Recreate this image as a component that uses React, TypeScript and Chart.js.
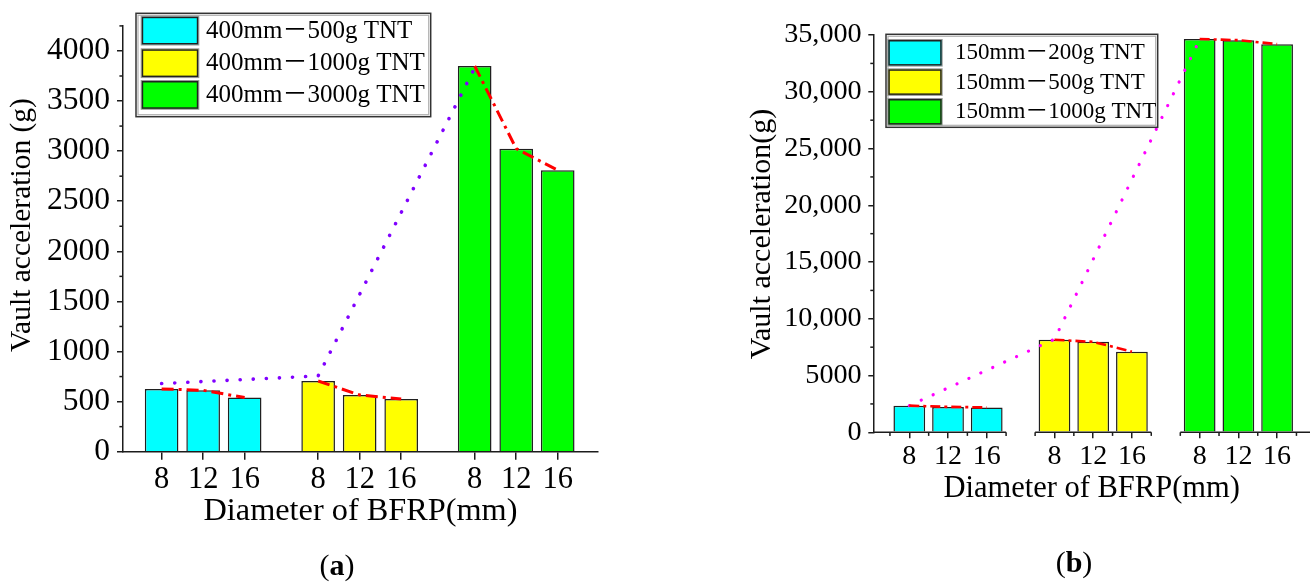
import React, { useEffect, useRef } from 'react';
import { Chart, registerables } from 'chart.js';

Chart.register(...registerables);

const FONT = '"Liberation Serif", "Times New Roman", "Noto Sans CJK SC", serif';
const AXIS = '#1c1c1c';
const TEXT = '#000000';

// ---------- shared ----------
const CATEGORIES = ['8', '12', '16'];
const COLORS = ['#00ffff', '#ffff00', '#00ff00'];

// ---------- panel (a) ----------
const A_SERIES = ['400mm－500g TNT', '400mm－1000g TNT', '400mm－3000g TNT'];
const A_500G = [626, 613, 540];
const A_1000G = [706, 566, 527];
const A_3000G = [3850, 3025, 2810];
const A_TREND = [680, 756, 3830];
const A_Y_TICKS = [0, 500, 1000, 1500, 2000, 2500, 3000, 3500, 4000];
const A_Y_LABELS = ['0', '500', '1000', '1500', '2000', '2500', '3000', '3500', '4000'];
const A_Y_MAX = 4250;

// ---------- panel (b) ----------
const B_SERIES = ['150mm－200g TNT', '150mm－500g TNT', '150mm－1000g TNT'];
const B_200G = [2350, 2240, 2190];
const B_500G = [8150, 7970, 7100];
const B_1000G = [34650, 34550, 34200];
const B_TREND = [2350, 8200, 34600];
const B_Y_TICKS = [0, 5000, 10000, 15000, 20000, 25000, 30000, 35000];
const B_Y_LABELS = ['0', '5000', '10,000', '15,000', '20,000', '25,000', '30,000', '35,000'];
const B_Y_MAX = 35000;

type Panel = {
  series: string[];
  groups: number[][];
  trend: number[];
  trendColor: string;
  trendDash: number[];
  trendWidth: number;
  redDash: number[];
  redWidth: number;
  yTicks: number[];
  yLabels: string[];
  yMax: number;
  yTitle: string;
  stride: number;
  xMin: number;
  xMax: number;
  barPct: number;
  pad: { top: number; right: number };
  yWidth: number;
  xHeight: number;
  yTickFont: number;
  yTickPad: number;
  yTickLen: number;
  yTitleFont: number;
  yTitlePos: { cx: number; cy: number };
  xTickFont: number;
  xTickPad: number;
  xTickLen: number;
  xTitleFont: number;
  xTitlePad: number;
  legend: { x: number; y: number; w: number; h: number; sx: number; sw: number; rows: number[]; rh: number; tx: number; font: number };
  label: { letter: string; cx: number; base: number; font: number };
  axisGaps: boolean;
  xMinor: boolean;
};

const PANEL_A: Panel = {
  series: A_SERIES,
  groups: [A_500G, A_1000G, A_3000G],
  trend: A_TREND,
  trendColor: '#8000ff',
  trendDash: [0.1, 13],
  trendWidth: 3.6,
  redDash: [12, 5, 3, 5],
  redWidth: 3,
  yTicks: A_Y_TICKS,
  yLabels: A_Y_LABELS,
  yMax: A_Y_MAX,
  yTitle: 'Vault acceleration (g)',
  stride: 3.77,
  xMin: -0.93,
  xMax: 10.51,
  barPct: 0.81,
  pad: { top: 12.3, right: 58 },
  yWidth: 123,
  xHeight: 130.3,
  yTickFont: 31.5,
  yTickPad: 7,
  yTickLen: 6,
  yTitleFont: 29.5,
  yTitlePos: { cx: 22.5, cy: 225 },
  xTickFont: 30.5,
  xTickPad: 2,
  xTickLen: 8,
  xTitleFont: 32.3,
  xTitlePad: 51,
  legend: { x: 136, y: 13.3, w: 294.7, h: 103.4, sx: 141.7, sw: 56.6, rows: [16.7, 49.3, 81], rh: 27.8, tx: 206, font: 25 },
  label: { letter: 'a', cx: 337, base: 575, font: 30 },
  axisGaps: false,
  xMinor: false,
};

const PANEL_B: Panel = {
  series: B_SERIES,
  groups: [B_200G, B_500G, B_1000G],
  trend: B_TREND,
  trendColor: '#ff00ff',
  trendDash: [0.1, 13],
  trendWidth: 3.2,
  redDash: [10, 4, 3, 4],
  redWidth: 2.6,
  yTicks: B_Y_TICKS,
  yLabels: B_Y_LABELS,
  yMax: B_Y_MAX,
  yTitle: 'Vault acceleration(g)',
  stride: 3.75,
  xMin: -0.93,
  xMax: 10.35,
  barPct: 0.82,
  pad: { top: 35.05, right: 2 },
  yWidth: 217.3,
  xHeight: 149.7,
  yTickFont: 28.2,
  yTickPad: 6.6,
  yTickLen: 5,
  yTitleFont: 30,
  yTitlePos: { cx: 106.5, cy: 234 },
  xTickFont: 28,
  xTickPad: 2,
  xTickLen: 6,
  xTitleFont: 30.5,
  xTitlePad: 75,
  legend: { x: 230, y: 34.3, w: 271.7, h: 93, sx: 232.3, sw: 53.4, rows: [40, 69.3, 99], rh: 25.6, tx: 299, font: 23 },
  label: { letter: 'b', cx: 418, base: 572, font: 30 },
  axisGaps: true,
  xMinor: true,
};

function decorPlugin(p: Panel) {
  return {
    id: 'decor',
    afterDraw(chart: any) {
      const ctx: CanvasRenderingContext2D = chart.ctx;
      const xs = chart.scales.x;
      const ys = chart.scales.y;
      const area = chart.chartArea;
      ctx.save();
      ctx.strokeStyle = AXIS;
      ctx.lineWidth = 1.5;
      // y minor ticks (halfway between majors)
      const step = p.yTicks[1] - p.yTicks[0];
      for (let v = step / 2; v <= p.yMax + 1e-6; v += step) {
        const py = ys.getPixelForValue(v);
        ctx.beginPath();
        ctx.moveTo(area.left - p.yTickLen * 0.6, py);
        ctx.lineTo(area.left, py);
        ctx.stroke();
      }
      // x axis line (with gaps between groups for panel b)
      if (p.axisGaps) {
        const segs = [
          [p.xMin, 2.5],
          [p.stride - 0.5, p.stride + 2.5],
          [2 * p.stride - 0.5, p.xMax],
        ];
        segs.forEach(([a, b]) => {
          ctx.beginPath();
          ctx.moveTo(Math.max(area.left - 0.75, xs.getPixelForValue(a)), area.bottom);
          ctx.lineTo(xs.getPixelForValue(b), area.bottom);
          ctx.stroke();
        });
      }
      if (p.xMinor) {
        for (let g = 0; g < 3; g++) {
          [-0.5, 0.5, 1.5, 2.5].forEach((o) => {
            const px = xs.getPixelForValue(g * p.stride + o);
            ctx.beginPath();
            ctx.moveTo(px, area.bottom);
            ctx.lineTo(px, area.bottom + p.xTickLen * 0.6);
            ctx.stroke();
          });
        }
      }
      // y axis title
      ctx.save();
      ctx.translate(p.yTitlePos.cx, p.yTitlePos.cy);
      ctx.rotate(-Math.PI / 2);
      ctx.font = `${p.yTitleFont}px ${FONT}`;
      ctx.textAlign = 'center';
      ctx.textBaseline = 'middle';
      ctx.fillStyle = TEXT;
      ctx.fillText(p.yTitle, 0, 0);
      ctx.restore();
      // legend
      const L = p.legend;
      ctx.fillStyle = '#ffffff';
      ctx.fillRect(L.x, L.y, L.w, L.h);
      ctx.lineWidth = 1.2;
      ctx.strokeStyle = '#b0b0b0';
      ctx.strokeRect(L.x + 2, L.y + 2, L.w - 4, L.h - 4);
      ctx.strokeStyle = '#333333';
      ctx.lineWidth = 1.5;
      ctx.strokeRect(L.x, L.y, L.w, L.h);
      ctx.font = `${L.font}px ${FONT}`;
      ctx.textBaseline = 'middle';
      ctx.textAlign = 'left';
      p.series.forEach((name, i) => {
        const top = L.rows[i];
        ctx.fillStyle = COLORS[i];
        ctx.fillRect(L.sx, top, L.sw, L.rh);
        ctx.strokeStyle = '#9a9a9a';
        ctx.lineWidth = 1;
        ctx.strokeRect(L.sx - 0.5, top - 0.5, L.sw + 1, L.rh + 1);
        ctx.strokeStyle = '#222222';
        ctx.lineWidth = 1.5;
        ctx.strokeRect(L.sx + 0.75, top + 0.75, L.sw - 1.5, L.rh - 1.5);
        ctx.fillStyle = TEXT;
        ctx.fillText(name, L.tx, top + L.rh / 2 + 0.5);
      });
      // panel label "(a)" / "(b)" with bold letter
      const lab = p.label;
      const normal = `${lab.font}px ${FONT}`;
      const bold = `bold ${lab.font}px ${FONT}`;
      ctx.textBaseline = 'alphabetic';
      ctx.font = normal;
      const w1 = ctx.measureText('(').width;
      const w3 = ctx.measureText(')').width;
      ctx.font = bold;
      const w2 = ctx.measureText(lab.letter).width;
      const x0 = lab.cx - (w1 + w2 + w3) / 2;
      ctx.fillStyle = TEXT;
      ctx.font = normal;
      ctx.fillText('(', x0, lab.base);
      ctx.font = bold;
      ctx.fillText(lab.letter, x0 + w1, lab.base);
      ctx.font = normal;
      ctx.fillText(')', x0 + w1 + w2, lab.base);
      ctx.restore();
    },
  };
}

function buildConfig(p: Panel): any {
  const positions: number[] = [];
  for (let g = 0; g < 3; g++) for (let i = 0; i < 3; i++) positions.push(g * p.stride + i);
  const xLabels = positions.map((_, k) => CATEGORIES[k % 3]);

  const bars = p.groups.map((vals, g) => ({
    type: 'bar',
    label: p.series[g],
    data: vals.map((v, i) => ({ x: g * p.stride + i, y: v })),
    backgroundColor: COLORS[g],
    borderColor: '#202020',
    borderWidth: 1.5,
    grouped: false,
    categoryPercentage: 1,
    barPercentage: p.barPct,
    order: 2,
  }));
  const reds = p.groups.map((vals, g) => ({
    type: 'line',
    label: 'trend-' + g,
    data: vals.map((v, i) => ({ x: g * p.stride + i, y: v })),
    borderColor: '#ff0000',
    borderWidth: p.redWidth,
    borderDash: p.redDash,
    pointRadius: 0,
    tension: 0,
    fill: false,
    order: 0,
  }));
  const trend = {
    type: 'line',
    label: 'trend-8mm',
    data: p.trend.map((v, g) => ({ x: g * p.stride, y: v })),
    borderColor: p.trendColor,
    borderWidth: p.trendWidth,
    borderDash: p.trendDash,
    borderCapStyle: 'round',
    pointRadius: 0,
    tension: 0,
    fill: false,
    order: 1,
  };

  return {
    type: 'bar',
    data: { datasets: [...reds, trend, ...bars] },
    options: {
      animation: false,
      responsive: false,
      events: [],
      layout: { padding: { top: p.pad.top, right: p.pad.right, bottom: 0, left: 0 } },
      plugins: { legend: { display: false }, tooltip: { enabled: false }, title: { display: false } },
      scales: {
        x: {
          type: 'linear',
          min: p.xMin,
          max: p.xMax,
          offset: false,
          afterBuildTicks: (s: any) => {
            s.ticks = positions.map((v) => ({ value: v }));
          },
          afterFit: (s: any) => {
            s.height = p.xHeight;
          },
          ticks: {
            callback: (_v: any, i: number) => xLabels[i],
            autoSkip: false,
            maxRotation: 0,
            minRotation: 0,
            padding: p.xTickPad,
            color: TEXT,
            font: { family: FONT, size: p.xTickFont },
          },
          grid: {
            offset: false,
            display: true,
            drawOnChartArea: false,
            drawTicks: true,
            tickLength: p.xTickLen,
            color: AXIS,
            lineWidth: 1.5,
          },
          border: { display: !p.axisGaps, color: AXIS, width: 1.5 },
          title: {
            display: true,
            text: 'Diameter of BFRP(mm)',
            color: TEXT,
            font: { family: FONT, size: p.xTitleFont },
            padding: { top: 0, bottom: p.xTitlePad },
          },
        },
        y: {
          type: 'linear',
          min: 0,
          max: p.yMax,
          afterBuildTicks: (s: any) => {
            s.ticks = p.yTicks.map((v) => ({ value: v }));
          },
          afterFit: (s: any) => {
            s.width = p.yWidth;
          },
          ticks: {
            callback: (_v: any, i: number) => p.yLabels[i],
            autoSkip: false,
            padding: p.yTickPad,
            color: TEXT,
            font: { family: FONT, size: p.yTickFont },
          },
          grid: {
            display: true,
            drawOnChartArea: false,
            drawTicks: true,
            tickLength: p.yTickLen,
            color: AXIS,
            lineWidth: 1.5,
          },
          border: { display: true, color: AXIS, width: 1.5 },
          title: { display: false },
        },
      },
    },
    plugins: [decorPlugin(p)],
  };
}

function PanelChart({ panel, left }: { panel: Panel; left: number }) {
  const ref = useRef<HTMLCanvasElement | null>(null);
  useEffect(() => {
    if (!ref.current) return;
    const chart = new Chart(ref.current, buildConfig(panel));
    return () => chart.destroy();
  }, [panel]);
  return (
    <canvas
      ref={ref}
      width={656}
      height={582}
      style={{ position: 'absolute', left, top: 0, width: 656, height: 582 }}
    />
  );
}

export default function App() {
  return (
    <div style={{ position: 'fixed', left: 0, top: 0, width: 1312, height: 582, background: '#ffffff', overflow: 'hidden' }}>
      <PanelChart panel={PANEL_A} left={0} />
      <PanelChart panel={PANEL_B} left={656} />
    </div>
  );
}
